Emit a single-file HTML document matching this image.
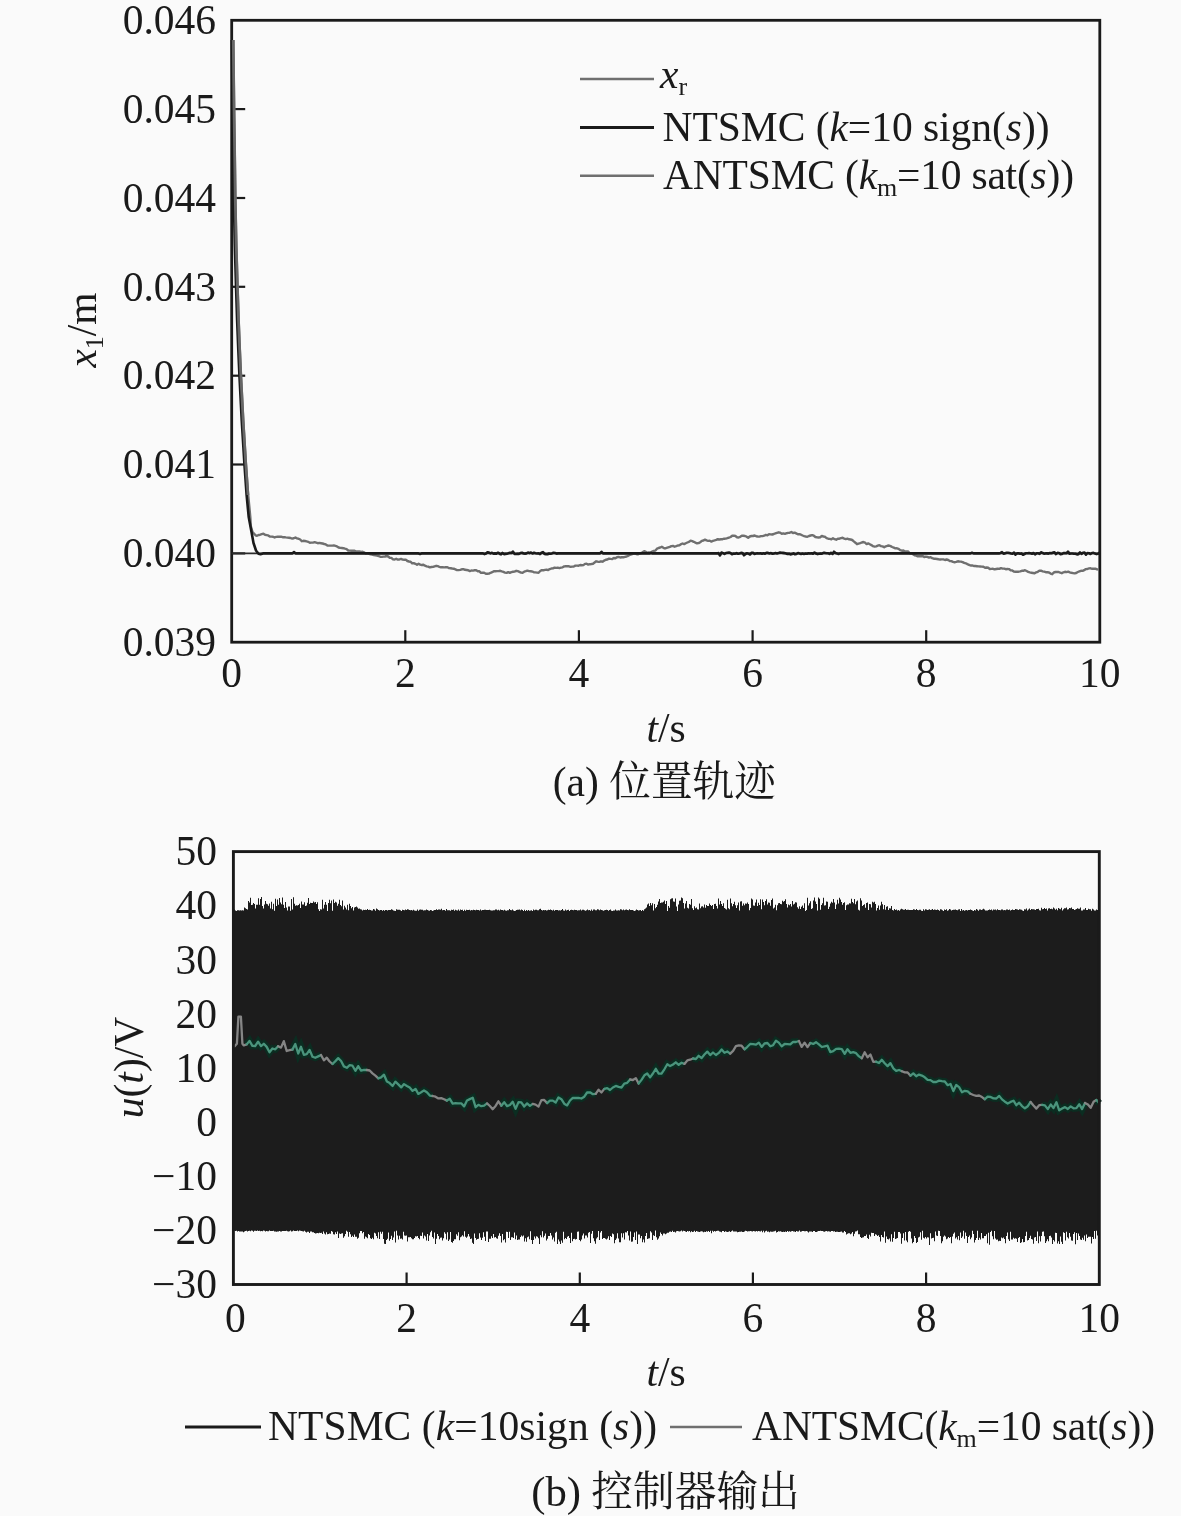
<!DOCTYPE html>
<html lang="zh"><head><meta charset="utf-8"><title>figure</title>
<style>html,body{margin:0;padding:0;background:#fafafa}body{width:1181px;height:1516px;overflow:hidden}</style></head>
<body>
<svg width="1181" height="1516" viewBox="0 0 1181 1516" style="display:block">
<rect width="1181" height="1516" fill="#fafafa"/>
<g font-family="Liberation Serif, Noto Serif CJK SC, serif" font-size="41.5" fill="#1a1a1a">
<rect x="231.7" y="20.3" width="868.1" height="621.9" fill="none" stroke="#1a1a1a" stroke-width="2.8"/>
<text x="216" y="34.0" text-anchor="end">0.046</text>
<line x1="231.7" x2="245.2" y1="109.1" y2="109.1" stroke="#1a1a1a" stroke-width="2.2"/>
<text x="216" y="122.8" text-anchor="end">0.045</text>
<line x1="231.7" x2="245.2" y1="198.0" y2="198.0" stroke="#1a1a1a" stroke-width="2.2"/>
<text x="216" y="211.7" text-anchor="end">0.044</text>
<line x1="231.7" x2="245.2" y1="286.8" y2="286.8" stroke="#1a1a1a" stroke-width="2.2"/>
<text x="216" y="300.5" text-anchor="end">0.043</text>
<line x1="231.7" x2="245.2" y1="375.7" y2="375.7" stroke="#1a1a1a" stroke-width="2.2"/>
<text x="216" y="389.4" text-anchor="end">0.042</text>
<line x1="231.7" x2="245.2" y1="464.5" y2="464.5" stroke="#1a1a1a" stroke-width="2.2"/>
<text x="216" y="478.2" text-anchor="end">0.041</text>
<line x1="231.7" x2="245.2" y1="553.4" y2="553.4" stroke="#1a1a1a" stroke-width="2.2"/>
<text x="216" y="567.1" text-anchor="end">0.040</text>
<text x="216" y="655.9" text-anchor="end">0.039</text>
<text x="231.7" y="686.9" text-anchor="middle">0</text>
<line x1="405.3" x2="405.3" y1="642.2" y2="630.2" stroke="#1a1a1a" stroke-width="2.2"/>
<text x="405.3" y="686.9" text-anchor="middle">2</text>
<line x1="578.9" x2="578.9" y1="642.2" y2="630.2" stroke="#1a1a1a" stroke-width="2.2"/>
<text x="578.9" y="686.9" text-anchor="middle">4</text>
<line x1="752.6" x2="752.6" y1="642.2" y2="630.2" stroke="#1a1a1a" stroke-width="2.2"/>
<text x="752.6" y="686.9" text-anchor="middle">6</text>
<line x1="926.2" x2="926.2" y1="642.2" y2="630.2" stroke="#1a1a1a" stroke-width="2.2"/>
<text x="926.2" y="686.9" text-anchor="middle">8</text>
<text x="1099.8" y="686.9" text-anchor="middle">10</text>
<text x="666" y="742" text-anchor="middle"><tspan font-style="italic">t</tspan>/s</text>
<text x="552.8" y="796">(a)</text><text x="776" y="796" text-anchor="end" font-size="41.7">位置轨迹</text>
<text transform="translate(95.8,330) rotate(-90)" text-anchor="middle"><tspan font-style="italic">x</tspan><tspan font-size="26" dy="7">1</tspan><tspan dy="-7">/m</tspan></text>
<line x1="231.7" x2="1099.8" y1="553.4" y2="553.4" stroke="#2a2a2a" stroke-width="1.6"/>
<path d="M233.4,40.0 L234.2,110.0 L234.8,150.0 L235.4,197.0 L236.4,245.0 L237.6,286.0 L238.7,320.0 L239.9,350.0 L241.0,375.0 L243.3,420.0 L246.0,464.0 L248.2,495.0 L250.3,517.0 L250.8,526.0 L252.5,532.0 L255.5,535.3 L257.0,535.8 L258.6,535.0 L260.2,534.7 L261.8,534.2 L263.4,533.7 L265.0,534.8 L266.6,535.1 L268.2,535.4 L269.8,536.5 L271.4,536.6 L273.0,536.7 L274.6,537.5 L276.2,536.9 L277.8,536.7 L279.4,536.7 L281.0,536.7 L282.6,537.2 L284.2,537.1 L285.8,537.4 L287.4,537.6 L289.0,537.8 L290.6,538.0 L292.2,538.6 L293.8,538.3 L295.4,537.5 L297.0,538.4 L298.6,538.7 L300.2,539.5 L301.8,541.2 L303.4,540.8 L305.0,541.0 L306.6,541.4 L308.2,541.8 L309.8,542.7 L311.4,542.6 L313.0,542.6 L314.6,542.2 L316.2,542.7 L317.8,543.2 L319.4,542.9 L321.0,543.2 L322.6,543.5 L324.2,544.0 L325.8,544.4 L327.4,545.5 L329.0,545.6 L330.6,545.6 L332.2,545.6 L333.8,545.4 L335.4,545.9 L337.0,546.4 L338.6,547.5 L340.2,547.9 L341.8,548.0 L343.4,548.2 L345.0,548.7 L346.6,549.1 L348.2,550.5 L349.8,550.6 L351.4,550.8 L353.0,550.8 L354.6,550.7 L356.2,551.5 L357.8,551.4 L359.4,551.4 L361.0,551.9 L362.6,551.8 L364.2,552.4 L365.8,553.5 L367.4,553.1 L369.0,553.9 L370.6,554.3 L372.2,554.6 L373.8,555.1 L375.4,555.3 L377.0,555.6 L378.6,556.0 L380.2,556.7 L381.8,556.9 L383.4,556.6 L385.0,556.5 L386.6,556.0 L388.2,556.5 L389.8,557.9 L391.4,557.9 L393.0,559.3 L394.6,559.5 L396.2,558.8 L397.8,559.6 L399.4,559.5 L401.0,558.9 L402.6,559.6 L404.2,559.7 L405.8,559.6 L407.4,561.0 L409.0,561.5 L410.6,561.7 L412.2,563.4 L413.8,563.1 L415.4,563.8 L417.0,564.7 L418.6,563.7 L420.2,564.6 L421.8,565.0 L423.4,564.7 L425.0,565.7 L426.6,566.3 L428.2,566.7 L429.8,567.4 L431.4,567.0 L433.0,566.9 L434.6,566.3 L436.2,565.8 L437.8,566.2 L439.4,566.8 L441.0,567.3 L442.6,567.2 L444.2,567.4 L445.8,567.2 L447.4,567.3 L449.0,568.1 L450.6,568.2 L452.2,568.5 L453.8,568.7 L455.4,569.4 L457.0,570.1 L458.6,570.1 L460.2,569.9 L461.8,569.3 L463.4,569.1 L465.0,569.8 L466.6,570.0 L468.2,570.2 L469.8,571.1 L471.4,570.5 L473.0,570.6 L474.6,570.3 L476.2,570.2 L477.8,571.2 L479.4,571.3 L481.0,572.9 L482.6,572.8 L484.2,572.8 L485.8,573.7 L487.4,573.8 L489.0,573.6 L490.6,572.8 L492.2,572.2 L493.8,571.2 L495.4,571.3 L497.0,571.1 L498.6,571.1 L500.2,570.8 L501.8,571.4 L503.4,571.9 L505.0,572.6 L506.6,572.9 L508.2,572.1 L509.8,572.8 L511.4,572.1 L513.0,571.8 L514.6,571.6 L516.2,570.8 L517.8,571.2 L519.4,571.9 L521.0,572.6 L522.6,572.7 L524.2,571.7 L525.8,571.2 L527.4,570.6 L529.0,571.1 L530.6,571.3 L532.2,571.5 L533.8,572.2 L535.4,572.4 L537.0,572.6 L538.6,572.7 L540.2,571.0 L541.8,570.1 L543.4,570.3 L545.0,569.9 L546.6,569.8 L548.2,570.1 L549.8,569.1 L551.4,568.5 L553.0,568.4 L554.6,567.6 L556.2,567.9 L557.8,567.7 L559.4,568.1 L561.0,567.7 L562.6,567.3 L564.2,566.4 L565.8,566.3 L567.4,566.3 L569.0,566.3 L570.6,566.9 L572.2,566.6 L573.8,566.5 L575.4,565.6 L577.0,565.6 L578.6,565.7 L580.2,565.0 L581.8,565.3 L583.4,565.1 L585.0,563.9 L586.6,563.8 L588.2,564.6 L589.8,564.2 L591.4,564.0 L593.0,563.7 L594.6,562.5 L596.2,561.3 L597.8,561.7 L599.4,561.9 L601.0,561.3 L602.6,561.7 L604.2,560.6 L605.8,559.8 L607.4,559.5 L609.0,558.6 L610.6,558.9 L612.2,559.1 L613.8,558.0 L615.4,558.3 L617.0,557.2 L618.6,556.9 L620.2,557.5 L621.8,557.2 L623.4,557.3 L625.0,556.9 L626.6,556.5 L628.2,555.8 L629.8,555.0 L631.4,554.4 L633.0,553.8 L634.6,553.4 L636.2,554.0 L637.8,554.4 L639.4,553.7 L641.0,553.1 L642.6,552.3 L644.2,551.1 L645.8,551.9 L647.4,552.7 L649.0,552.3 L650.6,552.7 L652.2,551.6 L653.8,550.9 L655.4,550.6 L657.0,548.7 L658.6,548.0 L660.2,547.5 L661.8,546.8 L663.4,547.8 L665.0,548.5 L666.6,547.9 L668.2,547.4 L669.8,546.9 L671.4,546.1 L673.0,545.9 L674.6,546.7 L676.2,546.2 L677.8,545.5 L679.4,545.3 L681.0,544.2 L682.6,543.5 L684.2,544.1 L685.8,543.3 L687.4,542.5 L689.0,541.9 L690.6,540.7 L692.2,541.1 L693.8,541.8 L695.4,542.6 L697.0,543.3 L698.6,543.1 L700.2,542.2 L701.8,540.9 L703.4,540.5 L705.0,539.6 L706.6,540.3 L708.2,540.9 L709.8,540.8 L711.4,541.6 L713.0,540.8 L714.6,540.4 L716.2,539.9 L717.8,539.2 L719.4,539.5 L721.0,539.3 L722.6,539.2 L724.2,538.7 L725.8,538.6 L727.4,538.2 L729.0,537.6 L730.6,537.0 L732.2,535.8 L733.8,535.6 L735.4,536.0 L737.0,537.2 L738.6,537.5 L740.2,536.8 L741.8,535.7 L743.4,535.8 L745.0,536.0 L746.6,536.7 L748.2,537.8 L749.8,536.5 L751.4,536.0 L753.0,536.0 L754.6,535.5 L756.2,536.2 L757.8,536.5 L759.4,536.6 L761.0,536.1 L762.6,536.1 L764.2,535.7 L765.8,534.9 L767.4,535.3 L769.0,534.2 L770.6,534.4 L772.2,534.5 L773.8,534.0 L775.4,533.4 L777.0,532.8 L778.6,532.3 L780.2,532.7 L781.8,533.7 L783.4,533.4 L785.0,533.8 L786.6,533.2 L788.2,532.9 L789.8,532.7 L791.4,532.0 L793.0,533.0 L794.6,532.6 L796.2,533.4 L797.8,534.3 L799.4,534.1 L801.0,534.7 L802.6,535.5 L804.2,536.1 L805.8,536.5 L807.4,536.8 L809.0,536.0 L810.6,535.5 L812.2,535.1 L813.8,535.7 L815.4,537.0 L817.0,537.3 L818.6,537.5 L820.2,537.3 L821.8,536.0 L823.4,536.5 L825.0,536.8 L826.6,538.2 L828.2,538.7 L829.8,538.9 L831.4,539.3 L833.0,538.3 L834.6,539.2 L836.2,539.7 L837.8,538.7 L839.4,538.7 L841.0,538.1 L842.6,537.8 L844.2,538.6 L845.8,539.1 L847.4,538.7 L849.0,539.3 L850.6,539.5 L852.2,540.0 L853.8,541.4 L855.4,542.7 L857.0,544.2 L858.6,543.7 L860.2,543.2 L861.8,542.5 L863.4,542.0 L865.0,542.7 L866.6,544.1 L868.2,543.4 L869.8,544.2 L871.4,545.1 L873.0,546.2 L874.6,546.6 L876.2,546.4 L877.8,545.7 L879.4,545.2 L881.0,546.1 L882.6,546.4 L884.2,547.3 L885.8,546.3 L887.4,545.8 L889.0,545.5 L890.6,546.1 L892.2,547.0 L893.8,547.7 L895.4,548.4 L897.0,548.3 L898.6,548.8 L900.2,550.2 L901.8,550.7 L903.4,550.5 L905.0,551.5 L906.6,551.4 L908.2,551.5 L909.8,553.2 L911.4,553.1 L913.0,554.3 L914.6,555.3 L916.2,555.6 L917.8,556.3 L919.4,556.1 L921.0,556.3 L922.6,556.1 L924.2,557.1 L925.8,556.6 L927.4,556.9 L929.0,557.6 L930.6,557.2 L932.2,558.1 L933.8,558.7 L935.4,558.8 L937.0,559.0 L938.6,559.3 L940.2,559.5 L941.8,559.4 L943.4,559.4 L945.0,560.0 L946.6,559.5 L948.2,560.0 L949.8,561.0 L951.4,561.1 L953.0,561.9 L954.6,562.2 L956.2,561.9 L957.8,561.3 L959.4,561.5 L961.0,561.6 L962.6,562.1 L964.2,562.9 L965.8,563.3 L967.4,564.1 L969.0,564.8 L970.6,565.5 L972.2,565.4 L973.8,566.0 L975.4,566.0 L977.0,566.2 L978.6,566.4 L980.2,566.5 L981.8,566.6 L983.4,566.8 L985.0,567.7 L986.6,567.5 L988.2,567.8 L989.8,569.0 L991.4,568.9 L993.0,568.8 L994.6,569.4 L996.2,569.0 L997.8,568.7 L999.4,568.9 L1001.0,568.1 L1002.6,568.6 L1004.2,568.6 L1005.8,569.2 L1007.4,569.0 L1009.0,569.1 L1010.6,570.2 L1012.2,570.4 L1013.8,571.5 L1015.4,571.7 L1017.0,571.8 L1018.6,571.7 L1020.2,571.3 L1021.8,570.8 L1023.4,570.8 L1025.0,570.2 L1026.6,571.0 L1028.2,571.9 L1029.8,572.4 L1031.4,572.7 L1033.0,573.0 L1034.6,573.3 L1036.2,572.3 L1037.8,571.8 L1039.4,570.6 L1041.0,570.7 L1042.6,571.3 L1044.2,571.7 L1045.8,572.2 L1047.4,572.3 L1049.0,572.5 L1050.6,573.6 L1052.2,574.2 L1053.8,572.5 L1055.4,572.0 L1057.0,571.9 L1058.6,572.0 L1060.2,572.7 L1061.8,573.2 L1063.4,572.3 L1065.0,571.8 L1066.6,572.1 L1068.2,571.6 L1069.8,572.3 L1071.4,572.8 L1073.0,573.1 L1074.6,573.4 L1076.2,573.0 L1077.8,572.0 L1079.4,571.4 L1081.0,570.8 L1082.6,570.9 L1084.2,570.2 L1085.8,569.1 L1087.4,569.0 L1089.0,568.4 L1090.6,568.3 L1092.2,568.8 L1093.8,568.7 L1095.4,568.7 L1097.0,569.4 L1098.6,569.5" fill="none" stroke="#6f6f6f" stroke-width="2.4" stroke-linejoin="round"/>
<path d="M231.8,40.0 L232.6,110.0 L233.2,150.0 L233.8,197.0 L234.8,245.0 L236.0,286.0 L237.1,320.0 L238.3,350.0 L239.4,375.0 L241.7,420.0 L244.4,464.0 L246.6,495.0 L248.7,517.0 L251.5,532.0 L253.5,543.0 L256.0,550.5 L258.5,553.8 L260.5,554.2 L263.0,553.4 L264.0,553.4 L265.5,553.4 L267.0,553.4 L268.5,553.4 L270.0,553.4 L271.5,553.4 L273.0,553.4 L274.5,553.4 L276.0,553.4 L277.5,553.4 L279.0,553.4 L280.5,553.4 L282.0,553.4 L283.5,553.4 L285.0,553.4 L286.5,553.4 L288.0,553.4 L289.5,553.4 L291.0,553.4 L292.5,553.4 L294.0,552.0 L295.5,553.4 L297.0,553.4 L298.5,553.4 L300.0,553.4 L301.5,553.4 L303.0,553.4 L304.5,553.4 L306.0,553.4 L307.5,553.4 L309.0,553.4 L310.5,553.4 L312.0,553.4 L313.5,553.4 L315.0,553.4 L316.5,553.4 L318.0,553.4 L319.5,553.4 L321.0,553.4 L322.5,553.4 L324.0,553.4 L325.5,553.4 L327.0,553.4 L328.5,553.4 L330.0,553.4 L331.5,553.4 L333.0,553.4 L334.5,553.4 L336.0,553.4 L337.5,553.4 L339.0,553.4 L340.5,553.4 L342.0,553.4 L343.5,553.4 L345.0,553.4 L346.5,553.4 L348.0,553.4 L349.5,553.4 L351.0,553.4 L352.5,553.4 L354.0,553.4 L355.5,553.4 L357.0,553.4 L358.5,553.4 L360.0,553.4 L361.5,553.4 L363.0,553.4 L364.5,553.4 L366.0,553.4 L367.5,553.4 L369.0,553.4 L370.5,553.4 L372.0,553.4 L373.5,553.4 L375.0,553.4 L376.5,553.4 L378.0,553.4 L379.5,553.4 L381.0,553.4 L382.5,553.4 L384.0,553.4 L385.5,553.4 L387.0,553.4 L388.5,553.4 L390.0,553.4 L391.5,553.4 L393.0,553.4 L394.5,553.4 L396.0,553.4 L397.5,553.4 L399.0,553.4 L400.5,553.4 L402.0,553.4 L403.5,553.4 L405.0,553.4 L406.5,553.4 L408.0,553.4 L409.5,553.4 L411.0,553.4 L412.5,553.4 L414.0,553.4 L415.5,553.4 L417.0,553.4 L418.5,553.4 L420.0,553.9 L421.5,553.4 L423.0,553.4 L424.5,553.4 L426.0,553.4 L427.5,553.4 L429.0,553.4 L430.5,553.4 L432.0,553.4 L433.5,553.4 L435.0,553.4 L436.5,553.4 L438.0,553.4 L439.5,553.4 L441.0,553.4 L442.5,553.4 L444.0,553.4 L445.5,553.4 L447.0,553.4 L448.5,553.4 L450.0,553.4 L451.5,553.4 L453.0,553.4 L454.5,553.4 L456.0,553.4 L457.5,553.4 L459.0,553.4 L460.5,553.4 L462.0,553.4 L463.5,553.4 L465.0,553.4 L466.5,553.4 L468.0,553.4 L469.5,553.4 L471.0,553.4 L472.5,553.4 L474.0,553.4 L475.5,553.4 L477.0,553.4 L478.5,553.4 L480.0,553.4 L481.5,553.4 L483.0,553.4 L484.5,554.1 L486.0,553.6 L487.5,552.2 L489.0,552.6 L490.5,553.4 L492.0,552.8 L493.5,553.6 L495.0,553.4 L496.5,553.6 L498.0,552.7 L499.5,553.7 L501.0,554.4 L502.5,552.9 L504.0,554.1 L505.5,553.9 L507.0,553.7 L508.5,553.3 L510.0,552.7 L511.5,552.9 L513.0,551.6 L514.5,553.9 L516.0,554.0 L517.5,553.9 L519.0,553.9 L520.5,553.1 L522.0,552.7 L523.5,553.5 L525.0,553.6 L526.5,553.4 L528.0,552.5 L529.5,553.1 L531.0,552.6 L532.5,553.5 L534.0,552.8 L535.5,553.3 L537.0,553.5 L538.5,553.4 L540.0,554.1 L541.5,552.8 L543.0,552.1 L544.5,553.9 L546.0,554.1 L547.5,554.2 L549.0,553.5 L550.5,553.7 L552.0,553.4 L553.5,552.7 L555.0,553.1 L556.5,553.6 L558.0,553.4 L559.5,553.4 L561.0,553.4 L562.5,553.4 L564.0,553.4 L565.5,553.4 L567.0,553.4 L568.5,553.4 L570.0,553.4 L571.5,553.4 L573.0,553.4 L574.5,553.4 L576.0,553.4 L577.5,553.4 L579.0,553.4 L580.5,553.4 L582.0,553.4 L583.5,553.4 L585.0,553.4 L586.5,553.4 L588.0,553.4 L589.5,553.4 L591.0,553.4 L592.5,553.4 L594.0,553.4 L595.5,553.4 L597.0,553.4 L598.5,553.4 L600.0,553.4 L601.5,551.8 L603.0,553.4 L604.5,553.4 L606.0,553.4 L607.5,553.4 L609.0,553.4 L610.5,553.4 L612.0,553.4 L613.5,553.4 L615.0,553.4 L616.5,553.4 L618.0,553.4 L619.5,553.4 L621.0,553.4 L622.5,553.4 L624.0,553.4 L625.5,553.4 L627.0,553.4 L628.5,553.4 L630.0,553.4 L631.5,553.4 L633.0,553.4 L634.5,553.4 L636.0,553.4 L637.5,553.4 L639.0,553.4 L640.5,553.4 L642.0,553.4 L643.5,553.4 L645.0,553.4 L646.5,553.4 L648.0,553.4 L649.5,553.4 L651.0,552.9 L652.5,553.4 L654.0,553.4 L655.5,553.4 L657.0,553.4 L658.5,553.4 L660.0,553.4 L661.5,553.4 L663.0,553.4 L664.5,553.4 L666.0,553.4 L667.5,553.4 L669.0,553.4 L670.5,553.4 L672.0,553.4 L673.5,553.4 L675.0,553.4 L676.5,553.4 L678.0,553.4 L679.5,553.4 L681.0,553.4 L682.5,553.4 L684.0,553.4 L685.5,553.4 L687.0,553.4 L688.5,553.4 L690.0,553.4 L691.5,553.4 L693.0,553.4 L694.5,553.4 L696.0,553.4 L697.5,553.4 L699.0,553.4 L700.5,553.4 L702.0,553.4 L703.5,553.4 L705.0,553.4 L706.5,553.4 L708.0,553.4 L709.5,553.4 L711.0,553.4 L712.5,553.4 L714.0,553.4 L715.5,553.4 L717.0,553.4 L718.5,553.1 L720.0,555.5 L721.5,552.5 L723.0,553.1 L724.5,554.0 L726.0,553.0 L727.5,552.8 L729.0,552.6 L730.5,553.0 L732.0,554.2 L733.5,553.6 L735.0,553.7 L736.5,553.1 L738.0,553.8 L739.5,553.4 L741.0,552.9 L742.5,553.1 L744.0,555.3 L745.5,554.0 L747.0,553.3 L748.5,553.7 L750.0,554.5 L751.5,552.9 L753.0,552.7 L754.5,553.9 L756.0,553.6 L757.5,553.3 L759.0,553.5 L760.5,553.2 L762.0,553.7 L763.5,553.2 L765.0,553.8 L766.5,552.7 L768.0,552.9 L769.5,553.4 L771.0,553.1 L772.5,553.8 L774.0,553.4 L775.5,553.1 L777.0,553.5 L778.5,553.1 L780.0,552.5 L781.5,552.8 L783.0,552.9 L784.5,553.1 L786.0,553.4 L787.5,553.9 L789.0,553.7 L790.5,554.4 L792.0,554.1 L793.5,553.3 L795.0,554.3 L796.5,554.0 L798.0,553.1 L799.5,553.6 L801.0,554.0 L802.5,553.5 L804.0,553.9 L805.5,553.6 L807.0,553.8 L808.5,553.2 L810.0,553.6 L811.5,553.2 L813.0,553.8 L814.5,552.5 L816.0,553.6 L817.5,554.1 L819.0,553.7 L820.5,553.4 L822.0,553.7 L823.5,552.9 L825.0,552.9 L826.5,553.2 L828.0,553.3 L829.5,553.9 L831.0,552.9 L832.5,553.9 L834.0,551.7 L835.5,553.0 L837.0,553.4 L838.5,554.0 L840.0,553.4 L841.5,553.4 L843.0,553.4 L844.5,553.4 L846.0,553.4 L847.5,553.4 L849.0,553.4 L850.5,553.4 L852.0,553.4 L853.5,553.4 L855.0,553.4 L856.5,553.4 L858.0,553.4 L859.5,553.4 L861.0,553.4 L862.5,553.4 L864.0,553.4 L865.5,553.4 L867.0,553.4 L868.5,553.4 L870.0,553.4 L871.5,553.4 L873.0,553.4 L874.5,553.4 L876.0,553.4 L877.5,553.4 L879.0,553.4 L880.5,553.4 L882.0,553.4 L883.5,553.4 L885.0,553.4 L886.5,553.4 L888.0,553.4 L889.5,553.4 L891.0,553.4 L892.5,553.4 L894.0,553.4 L895.5,553.4 L897.0,553.4 L898.5,553.4 L900.0,553.4 L901.5,553.4 L903.0,553.4 L904.5,553.4 L906.0,553.4 L907.5,553.4 L909.0,553.4 L910.5,553.4 L912.0,553.4 L913.5,553.4 L915.0,553.4 L916.5,553.4 L918.0,553.4 L919.5,553.4 L921.0,553.4 L922.5,553.4 L924.0,553.4 L925.5,553.4 L927.0,553.4 L928.5,553.4 L930.0,553.4 L931.5,553.4 L933.0,553.4 L934.5,553.4 L936.0,553.4 L937.5,553.4 L939.0,553.4 L940.5,553.4 L942.0,553.4 L943.5,553.4 L945.0,553.4 L946.5,553.4 L948.0,553.4 L949.5,553.4 L951.0,553.4 L952.5,553.4 L954.0,553.4 L955.5,553.4 L957.0,553.4 L958.5,553.4 L960.0,553.4 L961.5,553.4 L963.0,553.4 L964.5,553.4 L966.0,553.4 L967.5,553.4 L969.0,553.4 L970.5,553.4 L972.0,552.8 L973.5,553.4 L975.0,553.4 L976.5,553.4 L978.0,553.4 L979.5,553.4 L981.0,553.4 L982.5,553.4 L984.0,553.4 L985.5,553.4 L987.0,553.4 L988.5,553.4 L990.0,553.4 L991.5,553.4 L993.0,553.4 L994.5,553.4 L996.0,553.4 L997.5,553.4 L999.0,553.4 L1000.5,553.0 L1002.0,552.2 L1003.5,553.6 L1005.0,553.4 L1006.5,552.8 L1008.0,552.8 L1009.5,553.0 L1011.0,553.4 L1012.5,553.7 L1014.0,552.6 L1015.5,554.6 L1017.0,553.4 L1018.5,553.2 L1020.0,553.8 L1021.5,553.4 L1023.0,554.7 L1024.5,554.0 L1026.0,553.2 L1027.5,553.2 L1029.0,553.1 L1030.5,553.2 L1032.0,553.8 L1033.5,553.0 L1035.0,554.3 L1036.5,553.3 L1038.0,553.3 L1039.5,553.9 L1041.0,552.3 L1042.5,552.9 L1044.0,553.7 L1045.5,553.4 L1047.0,553.4 L1048.5,553.6 L1050.0,553.1 L1051.5,553.3 L1053.0,552.6 L1054.5,552.3 L1056.0,554.1 L1057.5,552.9 L1059.0,553.0 L1060.5,554.1 L1062.0,554.0 L1063.5,553.1 L1065.0,553.1 L1066.5,553.3 L1068.0,551.6 L1069.5,553.7 L1071.0,553.5 L1072.5,553.5 L1074.0,553.8 L1075.5,553.8 L1077.0,554.4 L1078.5,554.2 L1080.0,552.4 L1081.5,553.9 L1083.0,552.8 L1084.5,552.6 L1086.0,554.7 L1087.5,553.0 L1089.0,553.2 L1090.5,554.0 L1092.0,553.0 L1093.5,552.9 L1095.0,553.6 L1096.5,554.1 L1098.0,553.7 L1099.5,552.5" fill="none" stroke="#1a1a1a" stroke-width="2.6" stroke-linejoin="round"/>
<path d="M233.2,40.0 L234.0,110.0 L234.6,150.0 L235.2,197.0 L236.2,245.0 L237.4,286.0 L238.5,320.0 L239.7,350.0 L240.8,375.0 L243.1,420.0 L245.8,464.0 L248.0,495.0" fill="none" stroke="#666" stroke-width="2.7" stroke-linejoin="round"/>
<line x1="580" x2="654" y1="79" y2="79" stroke="#6f6f6f" stroke-width="2.6"/>
<line x1="580" x2="654" y1="127.5" y2="127.5" stroke="#1a1a1a" stroke-width="3"/>
<line x1="580" x2="654" y1="175.8" y2="175.8" stroke="#6f6f6f" stroke-width="2.6"/>
<text x="660" y="88"><tspan font-style="italic">x</tspan><tspan font-size="26" dy="7">r</tspan></text>
<text x="662.5" y="141" textLength="387" lengthAdjust="spacing">NTSMC (<tspan font-style="italic">k</tspan>=10 sign(<tspan font-style="italic">s</tspan>))</text>
<text x="663" y="189" textLength="411" lengthAdjust="spacing">ANTSMC (<tspan font-style="italic">k</tspan><tspan font-size="26" dy="7">m</tspan><tspan dy="-7">=10 sat(</tspan><tspan font-style="italic">s</tspan>))</text>
<path d="M232,911.1V910.7H233V911.0H234V909.4H235V910.5H236V910.9H237V910.2H238V910.3H239V910.5H240V910.3H241V910.4H242V910.3H243V910.4H244V907.5H245V908.3H246V909.1H247V909.4H248V901.0H249V902.6H250V897.8H251V905.0H252V904.8H253V903.1H254V903.9H255V908.4H256V904.8H257V904.7H258V898.2H259V904.8H260V898.9H261V897.0H262V905.9H263V908.4H264V904.6H265V901.1H266V903.8H267V904.2H268V905.7H269V903.6H270V908.6H271V901.7H272V909.3H273V903.7H274V910.7H275V898.7H276V905.9H277V899.6H278V904.8H279V898.0H280V902.5H281V904.2H282V897.5H283V904.7H284V908.1H285V902.1H286V907.6H287V910.4H288V906.6H289V906.4H290V910.7H291V899.1H292V909.6H293V897.2H294V903.8H295V905.7H296V905.3H297V905.6H298V905.0H299V903.8H300V908.1H301V901.5H302V904.5H303V904.6H304V902.2H305V906.0H306V905.4H307V902.8H308V898.1H309V904.0H310V902.8H311V902.9H312V903.1H313V901.4H314V902.6H315V902.0H316V904.0H317V902.2H318V909.3H319V910.9H320V909.2H321V909.4H322V899.7H323V908.5H324V904.7H325V902.0H326V904.7H327V910.9H328V903.1H329V899.8H330V903.3H331V900.4H332V910.8H333V899.6H334V902.9H335V901.8H336V902.5H337V905.8H338V903.7H339V899.8H340V905.1H341V906.3H342V900.6H343V909.6H344V905.7H345V907.5H346V909.4H347V904.7H348V910.2H349V903.8H350V906.1H351V908.3H352V907.0H353V910.4H354V907.4H355V907.1H356V906.4H357V907.4H358V908.7H359V908.4H360V909.3H361V909.6H362V910.4H363V909.7H364V910.1H365V909.8H366V909.9H367V909.1H368V910.1H369V909.7H370V910.0H371V910.5H372V910.5H373V909.1H374V909.6H375V910.8H376V908.5H377V909.3H378V910.0H379V910.6H380V910.0H381V910.0H382V910.7H383V910.0H384V910.8H385V910.0H386V910.0H387V910.4H388V910.1H389V909.9H390V910.0H391V909.3H392V909.8H393V910.6H394V910.7H395V911.0H396V909.2H397V909.7H398V909.8H399V909.8H400V910.3H401V910.9H402V909.8H403V910.1H404V910.3H405V909.6H406V910.1H407V909.2H408V909.4H409V909.9H410V910.3H411V910.0H412V910.4H413V909.8H414V910.5H415V910.8H416V910.8H417V909.6H418V910.8H419V909.7H420V909.5H421V909.7H422V909.8H423V910.4H424V910.3H425V910.3H426V909.6H427V909.9H428V910.5H429V910.8H430V910.1H431V910.3H432V911.0H433V910.5H434V910.0H435V910.0H436V909.3H437V910.0H438V909.5H439V909.4H440V909.8H441V908.7H442V910.3H443V910.0H444V910.1H445V910.8H446V909.1H447V910.3H448V910.2H449V910.3H450V910.7H451V909.8H452V909.9H453V909.4H454V910.7H455V909.8H456V910.2H457V910.5H458V909.4H459V910.7H460V909.5H461V909.9H462V909.7H463V910.9H464V909.8H465V910.7H466V909.7H467V909.9H468V909.9H469V909.7H470V910.4H471V909.9H472V910.3H473V909.7H474V909.9H475V910.2H476V909.7H477V910.0H478V910.0H479V910.5H480V909.5H481V910.4H482V910.0H483V910.1H484V909.7H485V909.8H486V910.0H487V910.1H488V910.0H489V909.7H490V910.3H491V910.5H492V910.5H493V910.2H494V910.2H495V909.6H496V909.5H497V910.3H498V909.8H499V910.6H500V909.4H501V910.0H502V909.9H503V910.4H504V909.7H505V910.4H506V910.7H507V910.2H508V910.2H509V909.1H510V909.9H511V910.3H512V909.6H513V910.5H514V910.9H515V910.8H516V910.1H517V909.8H518V909.8H519V909.6H520V910.2H521V909.6H522V910.0H523V910.9H524V909.8H525V911.1H526V910.1H527V910.7H528V910.0H529V910.7H530V910.4H531V910.3H532V910.9H533V909.6H534V910.2H535V909.7H536V909.7H537V910.2H538V910.2H539V909.3H540V908.7H541V910.1H542V910.6H543V910.0H544V910.2H545V909.9H546V910.5H547V910.3H548V909.8H549V909.9H550V909.4H551V910.1H552V910.5H553V909.7H554V910.7H555V910.0H556V910.0H557V909.9H558V910.4H559V910.2H560V910.4H561V910.1H562V909.0H563V910.4H564V910.8H565V909.6H566V910.5H567V910.1H568V909.7H569V910.9H570V910.1H571V909.7H572V910.0H573V910.2H574V909.7H575V910.1H576V910.1H577V910.5H578V910.2H579V910.2H580V909.4H581V910.4H582V909.7H583V909.7H584V910.2H585V910.8H586V910.3H587V909.6H588V910.3H589V910.0H590V910.8H591V909.5H592V910.8H593V909.4H594V909.5H595V910.2H596V910.3H597V909.3H598V909.6H599V910.3H600V909.5H601V909.9H602V910.3H603V910.7H604V910.2H605V910.0H606V909.8H607V910.0H608V910.7H609V910.0H610V909.4H611V910.7H612V910.9H613V910.5H614V910.6H615V909.5H616V910.4H617V910.4H618V910.2H619V910.5H620V909.3H621V909.6H622V910.2H623V909.6H624V910.3H625V909.8H626V909.6H627V909.9H628V910.2H629V909.2H630V910.0H631V909.9H632V910.0H633V910.6H634V911.1H635V910.6H636V909.4H637V910.1H638V910.5H639V910.3H640V910.1H641V911.0H642V910.1H643V910.7H644V909.3H645V908.6H646V907.5H647V904.5H648V903.4H649V906.0H650V903.0H651V905.3H652V903.3H653V910.6H654V904.0H655V908.2H656V907.1H657V904.8H658V901.6H659V899.1H660V903.1H661V902.4H662V902.4H663V901.8H664V900.4H665V904.0H666V901.1H667V910.9H668V906.0H669V907.8H670V899.3H671V898.6H672V898.2H673V901.5H674V901.7H675V898.4H676V906.4H677V911.0H678V904.4H679V900.7H680V900.5H681V897.6H682V898.2H683V903.1H684V908.6H685V903.6H686V901.0H687V907.7H688V908.6H689V904.0H690V904.7H691V899.0H692V908.2H693V910.1H694V906.2H695V908.3H696V907.6H697V909.2H698V909.5H699V903.5H700V908.3H701V906.4H702V906.2H703V907.6H704V904.6H705V907.7H706V905.0H707V906.0H708V906.0H709V903.5H710V905.0H711V905.9H712V904.9H713V909.0H714V904.0H715V903.7H716V906.0H717V908.5H718V898.6H719V904.6H720V901.1H721V904.0H722V905.9H723V903.3H724V908.1H725V908.7H726V909.4H727V899.7H728V908.3H729V909.2H730V898.6H731V903.3H732V906.2H733V903.9H734V901.8H735V905.3H736V908.0H737V905.2H738V902.4H739V910.6H740V901.6H741V901.3H742V905.8H743V903.4H744V905.2H745V903.4H746V903.7H747V902.4H748V904.1H749V910.3H750V908.0H751V898.6H752V899.6H753V905.5H754V905.8H755V902.4H756V899.6H757V905.9H758V902.8H759V904.9H760V899.3H761V909.3H762V899.6H763V902.1H764V905.2H765V901.0H766V899.2H767V904.5H768V902.6H769V902.8H770V905.8H771V900.0H772V898.5H773V908.6H774V907.5H775V904.7H776V910.2H777V905.3H778V903.3H779V902.9H780V904.1H781V904.3H782V900.8H783V901.7H784V901.1H785V899.2H786V903.9H787V907.6H788V904.5H789V905.2H790V904.1H791V906.5H792V901.1H793V904.5H794V903.7H795V902.3H796V902.4H797V907.2H798V908.7H799V906.2H800V908.9H801V906.8H802V905.6H803V907.9H804V903.3H805V910.9H806V909.9H807V897.8H808V905.4H809V903.3H810V901.2H811V909.0H812V908.2H813V900.4H814V897.4H815V901.5H816V904.1H817V910.4H818V897.5H819V898.7H820V909.7H821V905.0H822V903.3H823V897.7H824V905.5H825V905.3H826V901.4H827V901.8H828V909.0H829V906.8H830V903.5H831V901.7H832V902.7H833V899.0H834V902.5H835V908.9H836V904.4H837V899.8H838V903.5H839V897.7H840V899.5H841V902.0H842V904.8H843V903.1H844V902.3H845V910.0H846V905.3H847V904.4H848V904.6H849V903.3H850V903.6H851V898.8H852V902.1H853V903.3H854V898.9H855V904.3H856V901.5H857V900.6H858V909.8H859V910.4H860V898.3H861V900.6H862V906.0H863V904.9H864V904.2H865V907.8H866V902.9H867V902.6H868V910.0H869V903.9H870V904.2H871V907.5H872V901.7H873V902.6H874V901.7H875V903.9H876V910.5H877V908.0H878V905.5H879V909.8H880V905.6H881V901.7H882V904.2H883V909.3H884V904.9H885V909.7H886V906.7H887V906.2H888V909.9H889V908.3H890V908.5H891V905.9H892V910.0H893V910.6H894V909.1H895V910.0H896V909.6H897V910.4H898V910.1H899V910.7H900V909.5H901V908.7H902V909.2H903V909.8H904V909.7H905V909.0H906V910.0H907V909.8H908V909.8H909V910.0H910V909.9H911V910.0H912V910.1H913V909.3H914V909.5H915V910.0H916V909.0H917V910.1H918V910.2H919V909.8H920V909.7H921V910.8H922V910.9H923V909.2H924V910.5H925V909.2H926V909.4H927V909.9H928V909.8H929V909.2H930V910.0H931V909.8H932V908.9H933V910.1H934V909.6H935V909.7H936V909.9H937V909.5H938V910.1H939V910.7H940V909.2H941V909.6H942V910.2H943V910.9H944V909.6H945V910.1H946V909.2H947V910.7H948V910.3H949V909.1H950V909.4H951V910.4H952V910.0H953V909.8H954V909.7H955V909.4H956V910.1H957V910.2H958V909.6H959V909.2H960V910.9H961V908.9H962V910.4H963V910.1H964V910.8H965V910.3H966V910.1H967V910.6H968V910.0H969V910.1H970V909.5H971V910.0H972V910.4H973V910.9H974V910.0H975V910.4H976V909.0H977V909.7H978V910.7H979V909.4H980V909.6H981V909.9H982V909.6H983V908.7H984V909.4H985V910.5H986V910.5H987V910.4H988V910.1H989V909.6H990V910.1H991V909.5H992V910.6H993V909.5H994V909.8H995V909.6H996V910.2H997V909.2H998V910.0H999V910.0H1000V910.2H1001V909.5H1002V909.4H1003V910.2H1004V910.0H1005V910.3H1006V909.6H1007V909.5H1008V910.1H1009V909.6H1010V910.6H1011V910.0H1012V909.5H1013V910.0H1014V909.9H1015V909.0H1016V909.2H1017V909.5H1018V910.0H1019V909.3H1020V909.6H1021V909.7H1022V910.5H1023V911.0H1024V909.3H1025V909.6H1026V908.5H1027V910.6H1028V909.6H1029V908.4H1030V909.9H1031V909.0H1032V909.2H1033V909.3H1034V909.4H1035V910.0H1036V909.0H1037V908.9H1038V908.7H1039V910.2H1040V910.4H1041V907.7H1042V909.3H1043V908.9H1044V908.0H1045V909.1H1046V908.5H1047V910.5H1048V908.5H1049V908.2H1050V909.0H1051V908.7H1052V909.3H1053V907.5H1054V908.5H1055V909.7H1056V908.8H1057V910.2H1058V908.0H1059V908.8H1060V909.2H1061V907.7H1062V910.5H1063V909.2H1064V908.3H1065V908.2H1066V907.4H1067V909.4H1068V909.3H1069V908.0H1070V908.3H1071V907.4H1072V908.9H1073V909.0H1074V910.0H1075V909.6H1076V909.0H1077V908.3H1078V908.7H1079V908.7H1080V907.5H1081V910.4H1082V910.4H1083V909.5H1084V909.4H1085V908.0H1086V910.1H1087V910.0H1088V908.8H1089V909.2H1090V909.3H1091V910.8H1092V908.7H1093V909.4H1094V910.4H1095V910.5H1096V909.5H1097V910.1H1098V908.8H1099V909.4H1100V1230.4V1236.1H1099V1239.7H1098V1235.6H1097V1230.8H1096V1238.7H1095V1231.0H1094V1238.9H1093V1237.1H1092V1243.6H1091V1236.8H1090V1236.7H1089V1236.7H1088V1238.0H1087V1234.4H1086V1241.3H1085V1235.6H1084V1239.7H1083V1237.8H1082V1240.0H1081V1239.5H1080V1236.1H1079V1233.5H1078V1240.0H1077V1233.0H1076V1244.3H1075V1232.3H1074V1234.1H1073V1240.7H1072V1240.4H1071V1236.7H1070V1233.1H1069V1238.6H1068V1237.3H1067V1231.8H1066V1240.5H1065V1233.1H1064V1232.2H1063V1244.1H1062V1241.8H1061V1236.6H1060V1243.9H1059V1241.2H1058V1243.5H1057V1232.9H1056V1232.8H1055V1241.6H1054V1240.0H1053V1243.9H1052V1237.4H1051V1235.8H1050V1236.0H1049V1241.3H1048V1239.3H1047V1241.2H1046V1243.0H1045V1236.2H1044V1231.6H1043V1231.7H1042V1235.9H1041V1241.4H1040V1236.2H1039V1243.3H1038V1231.6H1037V1241.0H1036V1236.9H1035V1237.5H1034V1243.8H1033V1239.4H1032V1239.0H1031V1235.7H1030V1237.9H1029V1240.0H1028V1240.6H1027V1231.7H1026V1236.1H1025V1242.0H1024V1242.2H1023V1239.1H1022V1242.3H1021V1242.9H1020V1237.0H1019V1238.0H1018V1242.0H1017V1238.7H1016V1238.3H1015V1238.7H1014V1237.8H1013V1239.5H1012V1239.6H1011V1231.8H1010V1241.1H1009V1239.2H1008V1232.4H1007V1236.1H1006V1243.3H1005V1238.9H1004V1237.4H1003V1238.3H1002V1237.4H1001V1241.0H1000V1240.7H999V1241.2H998V1239.5H997V1239.7H996V1238.6H995V1231.0H994V1239.2H993V1236.2H992V1230.8H991V1232.1H990V1244.7H989V1232.7H988V1243.2H987V1234.2H986V1235.9H985V1236.1H984V1238.2H983V1238.3H982V1233.0H981V1239.4H980V1237.7H979V1240.1H978V1230.7H977V1238.1H976V1240.1H975V1242.4H974V1234.0H973V1230.8H972V1237.4H971V1239.2H970V1235.6H969V1237.0H968V1243.0H967V1236.0H966V1232.4H965V1238.7H964V1230.8H963V1236.4H962V1238.0H961V1232.5H960V1240.3H959V1236.1H958V1239.5H957V1237.2H956V1238.5H955V1232.6H954V1233.7H953V1236.5H952V1243.3H951V1236.9H950V1238.0H949V1237.0H948V1238.6H947V1239.2H946V1236.6H945V1235.4H944V1236.7H943V1241.2H942V1243.3H941V1236.0H940V1231.1H939V1230.7H938V1236.0H937V1235.4H936V1231.5H935V1241.3H934V1237.7H933V1238.0H932V1238.6H931V1233.2H930V1245.0H929V1237.4H928V1237.3H927V1238.5H926V1236.9H925V1238.4H924V1237.8H923V1230.8H922V1239.7H921V1232.3H920V1236.7H919V1237.6H918V1241.9H917V1242.9H916V1238.1H915V1236.1H914V1242.1H913V1243.3H912V1238.5H911V1231.8H910V1231.1H909V1231.8H908V1242.2H907V1240.6H906V1232.0H905V1240.5H904V1233.3H903V1238.0H902V1243.8H901V1233.4H900V1231.9H899V1231.9H898V1238.1H897V1238.4H896V1239.0H895V1231.8H894V1238.0H893V1241.8H892V1234.2H891V1241.4H890V1238.5H889V1239.5H888V1239.0H887V1236.4H886V1242.8H885V1231.5H884V1237.6H883V1236.9H882V1234.9H881V1241.5H880V1236.9H879V1235.2H878V1236.0H877V1234.7H876V1234.3H875V1235.9H874V1233.0H873V1233.0H872V1232.7H871V1236.4H870V1234.7H869V1238.9H868V1237.9H867V1234.4H866V1236.1H865V1235.9H864V1237.2H863V1237.6H862V1238.1H861V1237.1H860V1234.3H859V1234.2H858V1230.6H857V1231.3H856V1231.5H855V1233.8H854V1236.2H853V1231.9H852V1233.4H851V1234.3H850V1233.2H849V1233.2H848V1233.7H847V1234.5H846V1232.0H845V1231.1H844V1232.4H843V1232.5H842V1231.6H841V1231.8H840V1231.9H839V1232.0H838V1231.7H837V1231.7H836V1232.1H835V1231.2H834V1231.4H833V1231.1H832V1231.0H831V1231.8H830V1231.6H829V1231.3H828V1231.5H827V1231.1H826V1231.3H825V1231.7H824V1231.6H823V1231.0H822V1231.0H821V1230.8H820V1231.1H819V1231.1H818V1231.4H817V1231.9H816V1231.9H815V1231.1H814V1231.0H813V1232.0H812V1231.6H811V1231.6H810V1231.4H809V1232.4H808V1231.5H807V1230.9H806V1231.3H805V1231.3H804V1230.9H803V1231.1H802V1231.4H801V1231.8H800V1230.5H799V1231.5H798V1231.5H797V1231.1H796V1232.0H795V1231.5H794V1231.5H793V1230.9H792V1231.2H791V1231.7H790V1231.2H789V1231.8H788V1231.1H787V1231.9H786V1231.5H785V1232.0H784V1231.7H783V1232.0H782V1231.7H781V1231.2H780V1231.4H779V1231.3H778V1232.0H777V1232.5H776V1230.7H775V1231.2H774V1231.5H773V1231.8H772V1231.7H771V1231.6H770V1232.2H769V1231.5H768V1231.8H767V1230.7H766V1231.3H765V1232.4H764V1230.8H763V1232.3H762V1230.7H761V1231.6H760V1231.3H759V1231.1H758V1231.6H757V1231.1H756V1231.4H755V1231.3H754V1231.0H753V1231.4H752V1231.2H751V1230.9H750V1231.2H749V1231.2H748V1231.6H747V1231.0H746V1230.7H745V1231.4H744V1232.0H743V1231.9H742V1231.6H741V1231.8H740V1231.7H739V1231.9H738V1232.2H737V1231.5H736V1231.4H735V1231.4H734V1231.4H733V1230.6H732V1231.2H731V1232.0H730V1231.2H729V1231.7H728V1231.9H727V1231.8H726V1231.2H725V1232.0H724V1230.9H723V1231.1H722V1232.2H721V1231.8H720V1231.5H719V1230.8H718V1230.7H717V1231.1H716V1231.4H715V1231.1H714V1231.7H713V1230.8H712V1233.2H711V1230.7H710V1232.0H709V1231.0H708V1231.7H707V1231.2H706V1232.1H705V1231.7H704V1232.3H703V1231.6H702V1231.2H701V1231.6H700V1231.9H699V1231.7H698V1231.6H697V1231.1H696V1232.1H695V1230.8H694V1231.8H693V1232.1H692V1231.3H691V1232.2H690V1230.9H689V1231.5H688V1230.9H687V1232.1H686V1231.5H685V1230.9H684V1230.7H683V1231.6H682V1230.5H681V1231.3H680V1231.6H679V1231.3H678V1231.0H677V1231.3H676V1232.5H675V1231.7H674V1232.1H673V1230.7H672V1232.1H671V1231.6H670V1231.7H669V1232.8H668V1232.8H667V1233.6H666V1234.2H665V1233.4H664V1233.5H663V1235.4H662V1234.0H661V1232.6H660V1236.3H659V1238.6H658V1239.8H657V1237.2H656V1230.6H655V1236.0H654V1235.3H653V1240.0H652V1232.4H651V1231.3H650V1238.3H649V1238.6H648V1239.1H647V1232.9H646V1236.1H645V1242.5H644V1239.4H643V1242.2H642V1235.9H641V1238.2H640V1234.5H639V1234.5H638V1243.9H637V1231.5H636V1239.9H635V1232.5H634V1237.0H633V1241.6H632V1241.7H631V1231.5H630V1240.6H629V1235.4H628V1231.1H627V1232.4H626V1232.3H625V1239.6H624V1233.3H623V1237.4H622V1233.2H621V1242.3H620V1242.3H619V1238.5H618V1233.3H617V1238.4H616V1239.9H615V1243.2H614V1234.2H613V1233.6H612V1236.9H611V1236.1H610V1240.0H609V1236.2H608V1238.6H607V1239.5H606V1238.7H605V1238.1H604V1237.9H603V1238.9H602V1230.9H601V1232.6H600V1240.1H599V1231.1H598V1237.3H597V1238.5H596V1243.8H595V1241.3H594V1238.2H593V1231.1H592V1233.8H591V1242.9H590V1231.9H589V1232.7H588V1237.4H587V1235.4H586V1235.5H585V1238.5H584V1233.4H583V1235.4H582V1239.6H581V1241.2H580V1239.9H579V1231.4H578V1231.8H577V1239.0H576V1239.4H575V1238.8H574V1238.9H573V1241.2H572V1232.8H571V1243.0H570V1237.9H569V1236.0H568V1236.8H567V1239.0H566V1237.9H565V1239.3H564V1231.7H563V1242.7H562V1240.6H561V1244.0H560V1241.6H559V1239.5H558V1243.9H557V1231.8H556V1232.7H555V1241.5H554V1237.4H553V1239.6H552V1235.5H551V1233.0H550V1235.9H549V1235.9H548V1238.8H547V1240.4H546V1233.5H545V1235.8H544V1237.4H543V1231.2H542V1237.2H541V1235.3H540V1243.9H539V1238.3H538V1236.7H537V1236.3H536V1238.4H535V1236.4H534V1240.0H533V1243.9H532V1239.9H531V1231.3H530V1239.2H529V1236.5H528V1237.2H527V1241.8H526V1238.3H525V1241.4H524V1235.5H523V1236.4H522V1235.4H521V1237.1H520V1239.6H519V1239.4H518V1239.9H517V1235.4H516V1239.2H515V1232.4H514V1238.1H513V1237.3H512V1237.3H511V1240.0H510V1231.7H509V1238.1H508V1232.0H507V1231.7H506V1242.4H505V1239.3H504V1240.2H503V1234.0H502V1242.6H501V1235.9H500V1233.2H499V1235.8H498V1238.7H497V1238.2H496V1236.9H495V1237.5H494V1234.1H493V1238.0H492V1236.2H491V1238.8H490V1238.8H489V1242.1H488V1231.5H487V1231.6H486V1241.1H485V1236.7H484V1232.2H483V1237.7H482V1239.9H481V1237.5H480V1233.2H479V1238.7H478V1239.0H477V1239.8H476V1237.9H475V1233.4H474V1243.9H473V1242.8H472V1238.4H471V1239.1H470V1236.6H469V1233.9H468V1236.6H467V1237.7H466V1236.8H465V1231.3H464V1236.5H463V1235.2H462V1236.6H461V1237.2H460V1240.2H459V1232.2H458V1235.7H457V1234.3H456V1239.2H455V1239.3H454V1241.0H453V1242.8H452V1242.0H451V1232.1H450V1239.4H449V1240.9H448V1232.2H447V1239.6H446V1233.7H445V1232.2H444V1238.3H443V1240.6H442V1237.5H441V1237.8H440V1239.2H439V1236.1H438V1233.9H437V1238.8H436V1244.0H435V1232.6H434V1238.4H433V1236.9H432V1230.8H431V1232.2H430V1235.5H429V1241.0H428V1234.1H427V1240.5H426V1236.4H425V1235.5H424V1238.6H423V1232.4H422V1236.0H421V1235.7H420V1239.3H419V1238.1H418V1236.1H417V1236.6H416V1236.2H415V1238.0H414V1239.3H413V1239.3H412V1238.3H411V1237.1H410V1237.3H409V1237.2H408V1241.6H407V1235.6H406V1235.8H405V1235.5H404V1231.7H403V1239.4H402V1238.5H401V1238.8H400V1235.7H399V1239.6H398V1235.6H397V1230.8H396V1242.5H395V1231.6H394V1237.5H393V1239.9H392V1235.7H391V1238.9H390V1240.8H389V1232.4H388V1238.8H387V1240.0H386V1243.9H385V1243.7H384V1238.9H383V1231.7H382V1233.8H381V1231.8H380V1238.9H379V1232.2H378V1238.2H377V1236.1H376V1233.5H375V1232.7H374V1239.2H373V1237.8H372V1238.9H371V1238.3H370V1235.0H369V1233.9H368V1238.3H367V1237.3H366V1236.6H365V1238.8H364V1232.1H363V1233.3H362V1230.9H361V1231.1H360V1233.2H359V1237.7H358V1238.7H357V1236.8H356V1236.7H355V1234.6H354V1237.1H353V1235.7H352V1237.0H351V1234.3H350V1231.9H349V1236.7H348V1231.8H347V1230.8H346V1233.9H345V1236.2H344V1237.8H343V1233.3H342V1233.4H341V1234.1H340V1233.4H339V1237.9H338V1231.4H337V1234.0H336V1232.3H335V1234.5H334V1234.2H333V1231.7H332V1231.0H331V1233.7H330V1233.4H329V1234.0H328V1234.3H327V1232.3H326V1234.6H325V1233.4H324V1231.5H323V1233.9H322V1232.8H321V1232.9H320V1232.8H319V1233.3H318V1233.1H317V1233.3H316V1233.6H315V1233.0H314V1232.2H313V1232.2H312V1231.5H311V1231.6H310V1232.9H309V1231.7H308V1231.8H307V1232.6H306V1231.8H305V1230.8H304V1231.5H303V1231.2H302V1231.1H301V1230.7H300V1230.5H299V1231.2H298V1230.6H297V1231.1H296V1230.9H295V1231.1H294V1230.6H293V1231.2H292V1231.5H291V1230.4H290V1231.2H289V1231.5H288V1231.3H287V1230.7H286V1231.0H285V1231.1H284V1230.9H283V1231.1H282V1231.6H281V1231.4H280V1231.1H279V1231.4H278V1231.4H277V1231.8H276V1231.6H275V1231.4H274V1230.8H273V1231.0H272V1230.9H271V1230.9H270V1230.6H269V1231.2H268V1231.3H267V1231.0H266V1231.6H265V1230.8H264V1230.6H263V1231.3H262V1230.9H261V1231.3H260V1230.7H259V1231.0H258V1230.5H257V1230.9H256V1230.7H255V1230.8H254V1231.7H253V1230.8H252V1230.5H251V1231.3H250V1230.7H249V1230.9H248V1231.5H247V1230.7H246V1230.9H245V1231.4H244V1232.3H243V1231.5H242V1231.4H241V1231.5H240V1231.4H239V1231.0H238V1231.5H237V1230.8H236V1230.9H235V1230.7H234V1230.9H233V1231.0H232Z" fill="#1c1c1c"/>
<path d="M246.7,1044.4 L249.5,1040.9 L252.4,1045.9 L255.2,1046.0 L258.1,1041.7 L261.0,1046.1 L263.8,1043.8 L266.7,1046.9 L269.5,1052.2 L272.4,1048.5 L275.3,1049.3 L278.1,1046.3" fill="none" stroke="#0b2d21" stroke-width="7" stroke-linecap="butt"/>
<path d="M292.4,1049.6 L295.3,1044.0 L298.2,1053.5 L301.0,1046.8 L303.9,1054.8 L306.7,1054.2 L309.6,1049.9 L312.5,1056.7 L315.3,1057.8 L318.2,1056.4 L321.0,1055.0" fill="none" stroke="#0b2d21" stroke-width="7" stroke-linecap="butt"/>
<path d="M332.5,1064.0 L335.4,1061.1 L338.2,1058.1 L341.1,1061.0 L343.9,1066.4 L346.8,1067.8 L349.7,1065.2 L352.5,1065.7 L355.4,1070.8 L358.2,1066.1 L361.1,1070.6 L364.0,1069.9 L366.8,1070.0" fill="none" stroke="#0b2d21" stroke-width="7" stroke-linecap="butt"/>
<path d="M378.3,1078.3 L381.1,1077.3 L384.0,1074.7 L386.9,1081.5 L389.7,1083.1 L392.6,1086.0 L395.4,1081.6 L398.3,1084.4 L401.2,1087.4 L404.0,1084.1 L406.9,1086.0 L409.7,1087.6 L412.6,1090.9 L415.5,1088.9 L418.3,1093.9 L421.2,1092.3 L424.0,1090.4 L426.9,1092.2 L429.8,1095.6 L432.6,1096.0" fill="none" stroke="#0b2d21" stroke-width="7" stroke-linecap="butt"/>
<path d="M446.9,1100.6 L449.8,1098.8 L452.7,1103.6 L455.5,1103.2 L458.4,1103.3 L461.2,1103.3 L464.1,1106.4 L467.0,1100.5 L469.8,1099.1 L472.7,1097.7 L475.6,1107.2 L478.4,1104.8 L481.3,1106.2 L484.1,1105.6 L487.0,1103.4" fill="none" stroke="#0b2d21" stroke-width="7" stroke-linecap="butt"/>
<path d="M501.3,1105.7 L504.2,1102.2 L507.0,1106.1 L509.9,1105.0 L512.7,1101.8 L515.6,1108.9 L518.5,1102.1 L521.3,1102.4 L524.2,1106.5 L527.1,1103.4 L529.9,1105.9 L532.8,1103.9" fill="none" stroke="#0b2d21" stroke-width="7" stroke-linecap="butt"/>
<path d="M547.1,1103.1 L549.9,1100.7 L552.8,1100.6 L555.7,1102.5 L558.5,1097.4 L561.4,1099.2 L564.2,1103.7 L567.1,1105.4 L570.0,1100.5 L572.8,1097.9 L575.7,1098.0 L578.6,1097.8 L581.4,1098.5 L584.3,1096.7 L587.1,1092.5 L590.0,1092.3 L592.9,1094.2 L595.7,1093.9" fill="none" stroke="#0b2d21" stroke-width="7" stroke-linecap="butt"/>
<path d="M604.3,1088.9 L607.2,1088.1 L610.0,1090.0 L612.9,1087.5 L615.8,1085.9 L618.6,1086.9 L621.5,1087.5 L624.3,1083.6 L627.2,1082.8 L630.1,1079.5" fill="none" stroke="#0b2d21" stroke-width="7" stroke-linecap="butt"/>
<path d="M638.6,1083.5 L641.5,1079.9 L644.4,1075.3 L647.2,1073.5 L650.1,1077.4 L652.9,1073.5 L655.8,1068.8 L658.7,1073.7 L661.5,1073.7 L664.4,1069.3 L667.3,1064.2 L670.1,1066.1 L673.0,1064.5 L675.8,1062.3 L678.7,1064.8 L681.6,1062.7 L684.4,1063.9" fill="none" stroke="#0b2d21" stroke-width="7" stroke-linecap="butt"/>
<path d="M693.0,1058.5 L695.9,1059.0 L698.7,1055.8 L701.6,1058.1 L704.4,1054.5 L707.3,1051.6 L710.2,1055.1 L713.0,1052.5 L715.9,1055.0 L718.8,1052.9 L721.6,1049.5 L724.5,1052.8 L727.3,1051.5 L730.2,1053.6" fill="none" stroke="#0b2d21" stroke-width="7" stroke-linecap="butt"/>
<path d="M744.5,1049.3 L747.4,1046.8 L750.2,1044.0 L753.1,1044.1 L756.0,1044.6 L758.8,1042.6 L761.7,1046.9 L764.5,1043.5 L767.4,1043.0 L770.3,1046.3 L773.1,1045.2 L776.0,1040.7 L778.8,1042.6 L781.7,1046.4 L784.6,1044.0 L787.4,1044.1 L790.3,1044.3 L793.1,1041.8 L796.0,1042.0 L798.9,1041.0" fill="none" stroke="#0b2d21" stroke-width="7" stroke-linecap="butt"/>
<path d="M810.3,1043.0 L813.2,1043.9 L816.0,1042.2 L818.9,1044.4 L821.8,1047.0 L824.6,1046.3 L827.5,1045.7 L830.3,1052.1 L833.2,1051.2 L836.1,1048.9 L838.9,1048.7 L841.8,1049.1 L844.7,1053.8 L847.5,1049.2 L850.4,1052.8 L853.2,1052.2 L856.1,1053.2 L859.0,1056.4 L861.8,1058.2" fill="none" stroke="#0b2d21" stroke-width="7" stroke-linecap="butt"/>
<path d="M876.1,1061.7 L879.0,1063.0 L881.8,1059.8 L884.7,1063.2 L887.6,1066.1 L890.4,1063.1 L893.3,1068.3 L896.2,1070.8 L899.0,1070.0 L901.9,1071.3" fill="none" stroke="#0b2d21" stroke-width="7" stroke-linecap="butt"/>
<path d="M910.5,1075.7 L913.3,1073.4 L916.2,1076.2 L919.0,1074.6 L921.9,1075.6 L924.8,1077.3 L927.6,1079.8 L930.5,1080.1 L933.3,1082.0 L936.2,1082.0 L939.1,1080.6 L941.9,1081.1 L944.8,1081.5 L947.7,1085.2 L950.5,1084.0 L953.4,1091.1 L956.2,1085.0 L959.1,1087.1 L962.0,1092.2 L964.8,1090.8 L967.7,1091.3 L970.5,1093.8" fill="none" stroke="#0b2d21" stroke-width="7" stroke-linecap="butt"/>
<path d="M984.9,1099.2 L987.7,1096.7 L990.6,1097.0 L993.4,1098.4 L996.3,1098.5 L999.2,1095.9 L1002.0,1099.4 L1004.9,1101.7 L1007.7,1103.5 L1010.6,1101.9 L1013.5,1100.7 L1016.3,1105.2 L1019.2,1102.7 L1022.0,1106.1 L1024.9,1108.3 L1027.8,1106.2 L1030.6,1102.0" fill="none" stroke="#0b2d21" stroke-width="7" stroke-linecap="butt"/>
<path d="M1042.1,1104.9 L1044.9,1105.4 L1047.8,1109.1 L1050.7,1104.5 L1053.5,1108.1 L1056.4,1102.2 L1059.2,1110.3 L1062.1,1108.5 L1065.0,1107.1 L1067.8,1109.0 L1070.7,1106.4 L1073.5,1108.3 L1076.4,1108.1 L1079.3,1104.3 L1082.1,1109.1 L1085.0,1102.9" fill="none" stroke="#0b2d21" stroke-width="7" stroke-linecap="butt"/>
<path d="M1096.4,1099.9 L1099.3,1103.3" fill="none" stroke="#0b2d21" stroke-width="7" stroke-linecap="butt"/>
<path d="M234.4,1046.4 L236.9,1043.7 L238.4,1016.6 L240.9,1016.6 L242.4,1043.7 L243.8,1045.4 L246.7,1044.4" fill="none" stroke="#858585" stroke-width="2.3" stroke-linejoin="round" stroke-linecap="round"/>
<path d="M246.7,1044.4 L249.5,1040.9 L252.4,1045.9 L255.2,1046.0 L258.1,1041.7 L261.0,1046.1 L263.8,1043.8 L266.7,1046.9 L269.5,1052.2 L272.4,1048.5 L275.3,1049.3 L278.1,1046.3" fill="none" stroke="#4a947c" stroke-width="2.3" stroke-linejoin="round" stroke-linecap="round"/>
<path d="M278.1,1046.3 L281.0,1047.6 L283.8,1041.1 L286.7,1051.0 L289.6,1050.1 L292.4,1049.6" fill="none" stroke="#858585" stroke-width="2.3" stroke-linejoin="round" stroke-linecap="round"/>
<path d="M292.4,1049.6 L295.3,1044.0 L298.2,1053.5 L301.0,1046.8 L303.9,1054.8 L306.7,1054.2 L309.6,1049.9 L312.5,1056.7 L315.3,1057.8 L318.2,1056.4 L321.0,1055.0" fill="none" stroke="#4a947c" stroke-width="2.3" stroke-linejoin="round" stroke-linecap="round"/>
<path d="M321.0,1055.0 L323.9,1060.3 L326.8,1057.7 L329.6,1061.5 L332.5,1064.0" fill="none" stroke="#858585" stroke-width="2.3" stroke-linejoin="round" stroke-linecap="round"/>
<path d="M332.5,1064.0 L335.4,1061.1 L338.2,1058.1 L341.1,1061.0 L343.9,1066.4 L346.8,1067.8 L349.7,1065.2 L352.5,1065.7 L355.4,1070.8 L358.2,1066.1 L361.1,1070.6 L364.0,1069.9 L366.8,1070.0" fill="none" stroke="#4a947c" stroke-width="2.3" stroke-linejoin="round" stroke-linecap="round"/>
<path d="M366.8,1070.0 L369.7,1070.5 L372.5,1073.4 L375.4,1075.7 L378.3,1078.3" fill="none" stroke="#858585" stroke-width="2.3" stroke-linejoin="round" stroke-linecap="round"/>
<path d="M378.3,1078.3 L381.1,1077.3 L384.0,1074.7 L386.9,1081.5 L389.7,1083.1 L392.6,1086.0 L395.4,1081.6 L398.3,1084.4 L401.2,1087.4 L404.0,1084.1 L406.9,1086.0 L409.7,1087.6 L412.6,1090.9 L415.5,1088.9 L418.3,1093.9 L421.2,1092.3 L424.0,1090.4 L426.9,1092.2 L429.8,1095.6 L432.6,1096.0" fill="none" stroke="#4a947c" stroke-width="2.3" stroke-linejoin="round" stroke-linecap="round"/>
<path d="M432.6,1096.0 L435.5,1096.7 L438.4,1098.4 L441.2,1098.1 L444.1,1099.3 L446.9,1100.6" fill="none" stroke="#858585" stroke-width="2.3" stroke-linejoin="round" stroke-linecap="round"/>
<path d="M446.9,1100.6 L449.8,1098.8 L452.7,1103.6 L455.5,1103.2 L458.4,1103.3 L461.2,1103.3 L464.1,1106.4 L467.0,1100.5 L469.8,1099.1 L472.7,1097.7 L475.6,1107.2 L478.4,1104.8 L481.3,1106.2 L484.1,1105.6 L487.0,1103.4" fill="none" stroke="#4a947c" stroke-width="2.3" stroke-linejoin="round" stroke-linecap="round"/>
<path d="M487.0,1103.4 L489.9,1106.0 L492.7,1109.2 L495.6,1105.9 L498.4,1101.3 L501.3,1105.7" fill="none" stroke="#858585" stroke-width="2.3" stroke-linejoin="round" stroke-linecap="round"/>
<path d="M501.3,1105.7 L504.2,1102.2 L507.0,1106.1 L509.9,1105.0 L512.7,1101.8 L515.6,1108.9 L518.5,1102.1 L521.3,1102.4 L524.2,1106.5 L527.1,1103.4 L529.9,1105.9 L532.8,1103.9" fill="none" stroke="#4a947c" stroke-width="2.3" stroke-linejoin="round" stroke-linecap="round"/>
<path d="M532.8,1103.9 L535.6,1104.6 L538.5,1106.6 L541.4,1100.1 L544.2,1100.0 L547.1,1103.1" fill="none" stroke="#858585" stroke-width="2.3" stroke-linejoin="round" stroke-linecap="round"/>
<path d="M547.1,1103.1 L549.9,1100.7 L552.8,1100.6 L555.7,1102.5 L558.5,1097.4 L561.4,1099.2 L564.2,1103.7 L567.1,1105.4 L570.0,1100.5 L572.8,1097.9 L575.7,1098.0 L578.6,1097.8 L581.4,1098.5 L584.3,1096.7 L587.1,1092.5 L590.0,1092.3 L592.9,1094.2 L595.7,1093.9" fill="none" stroke="#4a947c" stroke-width="2.3" stroke-linejoin="round" stroke-linecap="round"/>
<path d="M595.7,1093.9 L598.6,1089.7 L601.4,1092.5 L604.3,1088.9" fill="none" stroke="#858585" stroke-width="2.3" stroke-linejoin="round" stroke-linecap="round"/>
<path d="M604.3,1088.9 L607.2,1088.1 L610.0,1090.0 L612.9,1087.5 L615.8,1085.9 L618.6,1086.9 L621.5,1087.5 L624.3,1083.6 L627.2,1082.8 L630.1,1079.5" fill="none" stroke="#4a947c" stroke-width="2.3" stroke-linejoin="round" stroke-linecap="round"/>
<path d="M630.1,1079.5 L632.9,1080.0 L635.8,1078.1 L638.6,1083.5" fill="none" stroke="#858585" stroke-width="2.3" stroke-linejoin="round" stroke-linecap="round"/>
<path d="M638.6,1083.5 L641.5,1079.9 L644.4,1075.3 L647.2,1073.5 L650.1,1077.4 L652.9,1073.5 L655.8,1068.8 L658.7,1073.7 L661.5,1073.7 L664.4,1069.3 L667.3,1064.2 L670.1,1066.1 L673.0,1064.5 L675.8,1062.3 L678.7,1064.8 L681.6,1062.7 L684.4,1063.9" fill="none" stroke="#4a947c" stroke-width="2.3" stroke-linejoin="round" stroke-linecap="round"/>
<path d="M684.4,1063.9 L687.3,1060.4 L690.1,1059.7 L693.0,1058.5" fill="none" stroke="#858585" stroke-width="2.3" stroke-linejoin="round" stroke-linecap="round"/>
<path d="M693.0,1058.5 L695.9,1059.0 L698.7,1055.8 L701.6,1058.1 L704.4,1054.5 L707.3,1051.6 L710.2,1055.1 L713.0,1052.5 L715.9,1055.0 L718.8,1052.9 L721.6,1049.5 L724.5,1052.8 L727.3,1051.5 L730.2,1053.6" fill="none" stroke="#4a947c" stroke-width="2.3" stroke-linejoin="round" stroke-linecap="round"/>
<path d="M730.2,1053.6 L733.1,1050.8 L735.9,1046.2 L738.8,1045.4 L741.6,1045.7 L744.5,1049.3" fill="none" stroke="#858585" stroke-width="2.3" stroke-linejoin="round" stroke-linecap="round"/>
<path d="M744.5,1049.3 L747.4,1046.8 L750.2,1044.0 L753.1,1044.1 L756.0,1044.6 L758.8,1042.6 L761.7,1046.9 L764.5,1043.5 L767.4,1043.0 L770.3,1046.3 L773.1,1045.2 L776.0,1040.7 L778.8,1042.6 L781.7,1046.4 L784.6,1044.0 L787.4,1044.1 L790.3,1044.3 L793.1,1041.8 L796.0,1042.0 L798.9,1041.0" fill="none" stroke="#4a947c" stroke-width="2.3" stroke-linejoin="round" stroke-linecap="round"/>
<path d="M798.9,1041.0 L801.7,1046.9 L804.6,1042.6 L807.5,1047.1 L810.3,1043.0" fill="none" stroke="#858585" stroke-width="2.3" stroke-linejoin="round" stroke-linecap="round"/>
<path d="M810.3,1043.0 L813.2,1043.9 L816.0,1042.2 L818.9,1044.4 L821.8,1047.0 L824.6,1046.3 L827.5,1045.7 L830.3,1052.1 L833.2,1051.2 L836.1,1048.9 L838.9,1048.7 L841.8,1049.1 L844.7,1053.8 L847.5,1049.2 L850.4,1052.8 L853.2,1052.2 L856.1,1053.2 L859.0,1056.4 L861.8,1058.2" fill="none" stroke="#4a947c" stroke-width="2.3" stroke-linejoin="round" stroke-linecap="round"/>
<path d="M861.8,1058.2 L864.7,1052.3 L867.5,1057.3 L870.4,1054.5 L873.3,1061.8 L876.1,1061.7" fill="none" stroke="#858585" stroke-width="2.3" stroke-linejoin="round" stroke-linecap="round"/>
<path d="M876.1,1061.7 L879.0,1063.0 L881.8,1059.8 L884.7,1063.2 L887.6,1066.1 L890.4,1063.1 L893.3,1068.3 L896.2,1070.8 L899.0,1070.0 L901.9,1071.3" fill="none" stroke="#4a947c" stroke-width="2.3" stroke-linejoin="round" stroke-linecap="round"/>
<path d="M901.9,1071.3 L904.7,1072.4 L907.6,1072.5 L910.5,1075.7" fill="none" stroke="#858585" stroke-width="2.3" stroke-linejoin="round" stroke-linecap="round"/>
<path d="M910.5,1075.7 L913.3,1073.4 L916.2,1076.2 L919.0,1074.6 L921.9,1075.6 L924.8,1077.3 L927.6,1079.8 L930.5,1080.1 L933.3,1082.0 L936.2,1082.0 L939.1,1080.6 L941.9,1081.1 L944.8,1081.5 L947.7,1085.2 L950.5,1084.0 L953.4,1091.1 L956.2,1085.0 L959.1,1087.1 L962.0,1092.2 L964.8,1090.8 L967.7,1091.3 L970.5,1093.8" fill="none" stroke="#4a947c" stroke-width="2.3" stroke-linejoin="round" stroke-linecap="round"/>
<path d="M970.5,1093.8 L973.4,1095.0 L976.3,1095.9 L979.1,1095.5 L982.0,1097.1 L984.9,1099.2" fill="none" stroke="#858585" stroke-width="2.3" stroke-linejoin="round" stroke-linecap="round"/>
<path d="M984.9,1099.2 L987.7,1096.7 L990.6,1097.0 L993.4,1098.4 L996.3,1098.5 L999.2,1095.9 L1002.0,1099.4 L1004.9,1101.7 L1007.7,1103.5 L1010.6,1101.9 L1013.5,1100.7 L1016.3,1105.2 L1019.2,1102.7 L1022.0,1106.1 L1024.9,1108.3 L1027.8,1106.2 L1030.6,1102.0" fill="none" stroke="#4a947c" stroke-width="2.3" stroke-linejoin="round" stroke-linecap="round"/>
<path d="M1030.6,1102.0 L1033.5,1105.5 L1036.4,1108.6 L1039.2,1105.2 L1042.1,1104.9" fill="none" stroke="#858585" stroke-width="2.3" stroke-linejoin="round" stroke-linecap="round"/>
<path d="M1042.1,1104.9 L1044.9,1105.4 L1047.8,1109.1 L1050.7,1104.5 L1053.5,1108.1 L1056.4,1102.2 L1059.2,1110.3 L1062.1,1108.5 L1065.0,1107.1 L1067.8,1109.0 L1070.7,1106.4 L1073.5,1108.3 L1076.4,1108.1 L1079.3,1104.3 L1082.1,1109.1 L1085.0,1102.9" fill="none" stroke="#4a947c" stroke-width="2.3" stroke-linejoin="round" stroke-linecap="round"/>
<path d="M1085.0,1102.9 L1087.9,1104.5 L1090.7,1107.8 L1093.6,1101.7 L1096.4,1099.9" fill="none" stroke="#858585" stroke-width="2.3" stroke-linejoin="round" stroke-linecap="round"/>
<path d="M1096.4,1099.9 L1099.3,1103.3" fill="none" stroke="#4a947c" stroke-width="2.3" stroke-linejoin="round" stroke-linecap="round"/>
<rect x="233.4" y="851.6" width="865.9" height="432.9" fill="none" stroke="#1a1a1a" stroke-width="2.9"/>
<text x="217" y="865.3" text-anchor="end">50</text>
<text x="217" y="919.4" text-anchor="end">40</text>
<text x="217" y="973.5" text-anchor="end">30</text>
<text x="217" y="1027.6" text-anchor="end">20</text>
<text x="217" y="1081.8" text-anchor="end">10</text>
<text x="217" y="1135.9" text-anchor="end">0</text>
<text x="217" y="1190.0" text-anchor="end">−10</text>
<text x="217" y="1244.1" text-anchor="end">−20</text>
<text x="217" y="1298.2" text-anchor="end">−30</text>
<text x="235.4" y="1332" text-anchor="middle">0</text>
<line x1="406.6" x2="406.6" y1="1284.5" y2="1272.5" stroke="#1a1a1a" stroke-width="2.2"/>
<text x="406.6" y="1332" text-anchor="middle">2</text>
<line x1="579.8" x2="579.8" y1="1284.5" y2="1272.5" stroke="#1a1a1a" stroke-width="2.2"/>
<text x="579.8" y="1332" text-anchor="middle">4</text>
<line x1="752.9" x2="752.9" y1="1284.5" y2="1272.5" stroke="#1a1a1a" stroke-width="2.2"/>
<text x="752.9" y="1332" text-anchor="middle">6</text>
<line x1="926.1" x2="926.1" y1="1284.5" y2="1272.5" stroke="#1a1a1a" stroke-width="2.2"/>
<text x="926.1" y="1332" text-anchor="middle">8</text>
<text x="1099.3" y="1332" text-anchor="middle">10</text>
<text x="666" y="1386" text-anchor="middle"><tspan font-style="italic">t</tspan>/s</text>
<text transform="translate(142.6,1067.5) rotate(-90)" text-anchor="middle"><tspan font-style="italic">u</tspan>(<tspan font-style="italic">t</tspan>)/V</text>
<line x1="185" x2="261" y1="1427" y2="1427" stroke="#1a1a1a" stroke-width="3"/>
<text x="268" y="1440" textLength="389" lengthAdjust="spacing">NTSMC (<tspan font-style="italic">k</tspan>=10sign (<tspan font-style="italic">s</tspan>))</text>
<line x1="670" x2="742" y1="1427" y2="1427" stroke="#6f6f6f" stroke-width="2.6"/>
<text x="752" y="1440" textLength="403" lengthAdjust="spacing">ANTSMC(<tspan font-style="italic">k</tspan><tspan font-size="26" dy="7">m</tspan><tspan dy="-7">=10 sat(</tspan><tspan font-style="italic">s</tspan>))</text>
<text x="531.3" y="1506" font-size="42.7">(b)</text><text x="799.8" y="1506" text-anchor="end" font-size="41.7">控制器输出</text>
</g></svg>
</body></html>
